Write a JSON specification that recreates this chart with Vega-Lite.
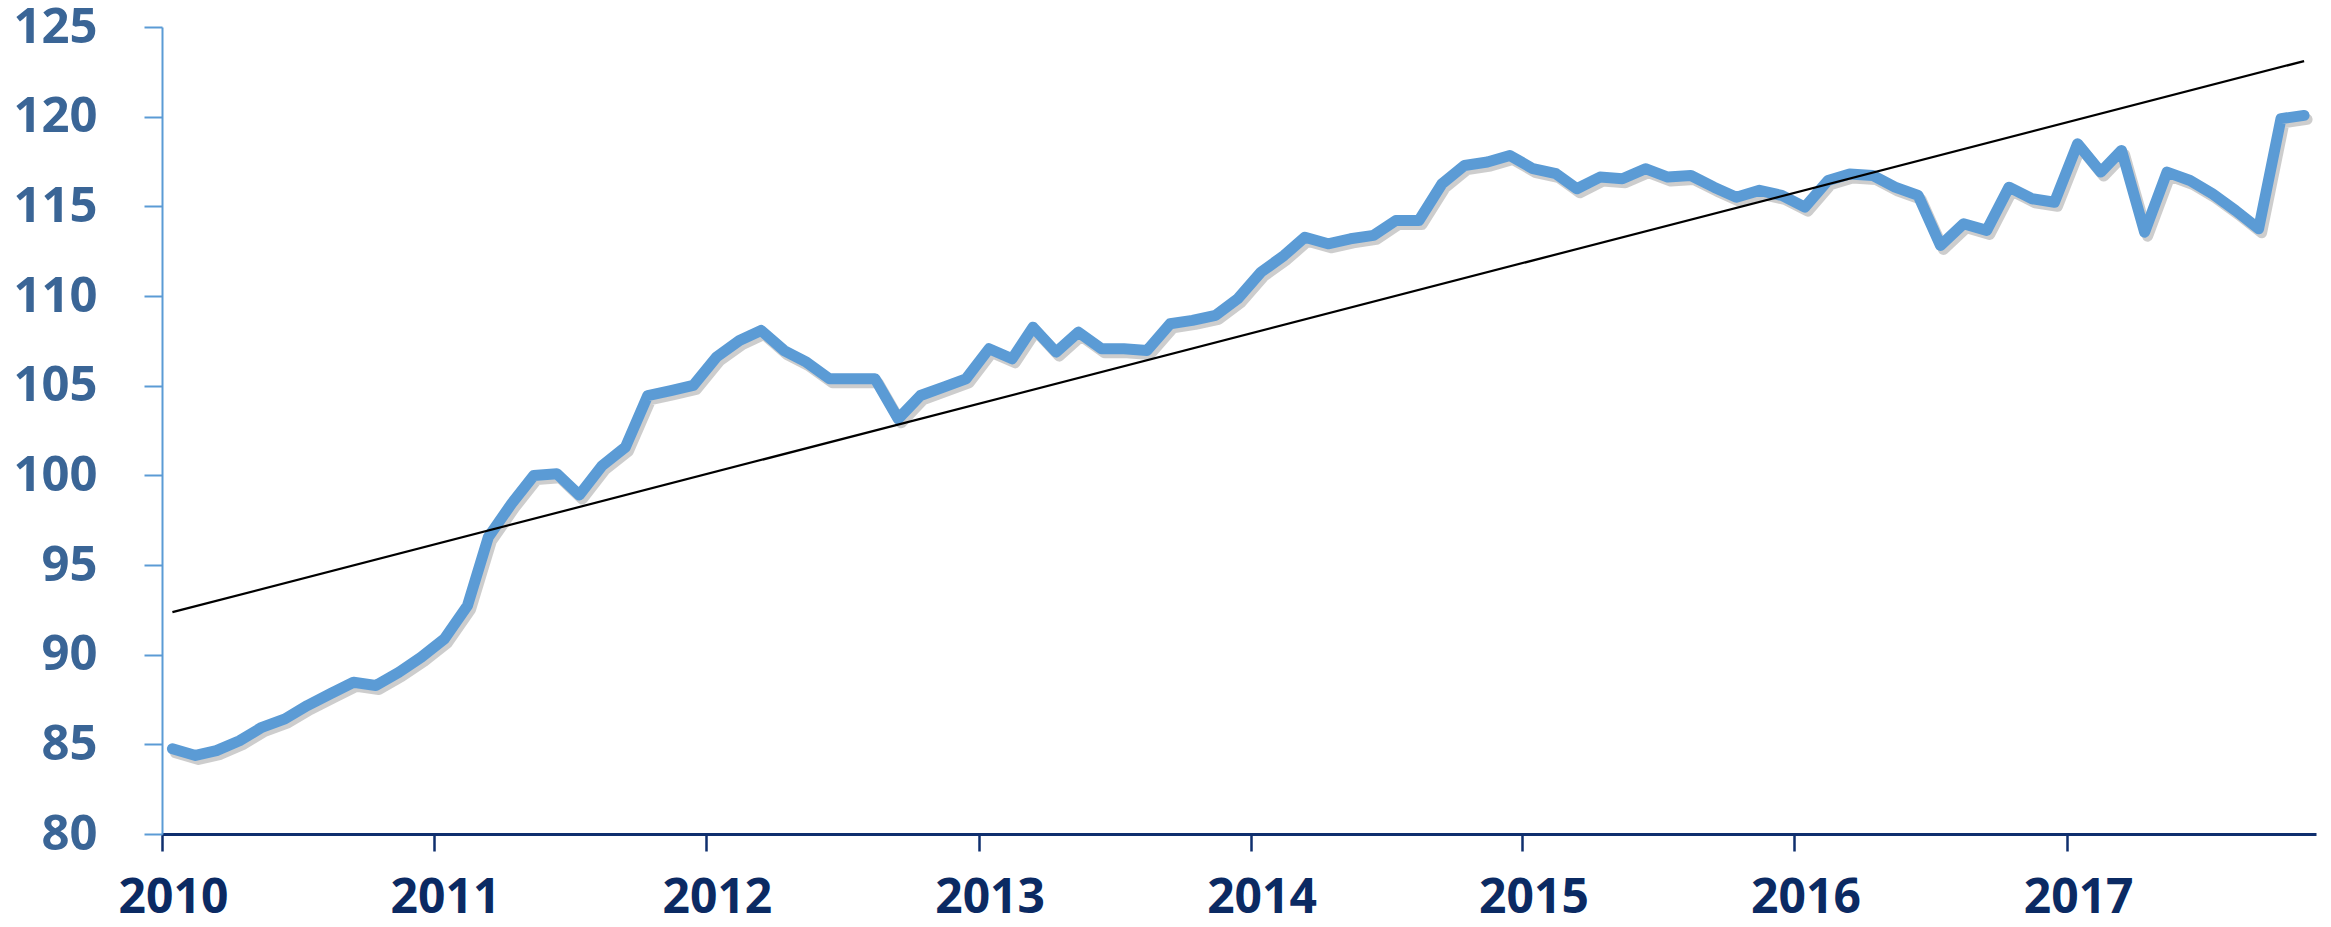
{
  "$schema": "https://vega.github.io/schema/vega-lite/v6.json",
  "autosize": {"type": "none"},
  "padding": {"left": 162, "top": 27, "right": 15, "bottom": 93},
  "width": 2154,
  "height": 807,
  "background": "white",
  "config": {"view": {"stroke": null}},
  "datasets": {
    "series": [
      {"date": "2010-01-15", "value": 84.75}, {"date": "2010-02-15", "value": 84.38}, {"date": "2010-03-15", "value": 84.65}, {"date": "2010-04-15", "value": 85.2}, {"date": "2010-05-15", "value": 85.95}, {"date": "2010-06-15", "value": 86.42}, {"date": "2010-07-15", "value": 87.16}, {"date": "2010-08-15", "value": 87.82}, {"date": "2010-09-15", "value": 88.46}, {"date": "2010-10-15", "value": 88.28}, {"date": "2010-11-15", "value": 89.02}, {"date": "2010-12-15", "value": 89.86},
      {"date": "2011-01-15", "value": 90.88}, {"date": "2011-02-15", "value": 92.74}, {"date": "2011-03-15", "value": 96.55}, {"date": "2011-04-15", "value": 98.41}, {"date": "2011-05-15", "value": 99.99}, {"date": "2011-06-15", "value": 100.09}, {"date": "2011-07-15", "value": 98.9}, {"date": "2011-08-15", "value": 100.55}, {"date": "2011-09-15", "value": 101.57}, {"date": "2011-10-15", "value": 104.45}, {"date": "2011-11-15", "value": 104.73}, {"date": "2011-12-15", "value": 105.01},
      {"date": "2012-01-15", "value": 106.59}, {"date": "2012-02-15", "value": 107.52}, {"date": "2012-03-15", "value": 108.08}, {"date": "2012-04-15", "value": 106.96}, {"date": "2012-05-15", "value": 106.31}, {"date": "2012-06-15", "value": 105.38}, {"date": "2012-07-15", "value": 105.38}, {"date": "2012-08-15", "value": 105.38}, {"date": "2012-09-15", "value": 103.15}, {"date": "2012-10-15", "value": 104.45}, {"date": "2012-11-15", "value": 104.92}, {"date": "2012-12-15", "value": 105.38},
      {"date": "2013-01-15", "value": 107.06}, {"date": "2013-02-15", "value": 106.5}, {"date": "2013-03-15", "value": 108.26}, {"date": "2013-04-15", "value": 106.87}, {"date": "2013-05-15", "value": 107.98}, {"date": "2013-06-15", "value": 107.06}, {"date": "2013-07-15", "value": 107.06}, {"date": "2013-08-15", "value": 106.96}, {"date": "2013-09-15", "value": 108.45}, {"date": "2013-10-15", "value": 108.64}, {"date": "2013-11-15", "value": 108.92}, {"date": "2013-12-15", "value": 109.85},
      {"date": "2014-01-15", "value": 111.33}, {"date": "2014-02-15", "value": 112.26}, {"date": "2014-03-15", "value": 113.28}, {"date": "2014-04-15", "value": 112.91}, {"date": "2014-05-15", "value": 113.19}, {"date": "2014-06-15", "value": 113.38}, {"date": "2014-07-15", "value": 114.21}, {"date": "2014-08-15", "value": 114.21}, {"date": "2014-09-15", "value": 116.26}, {"date": "2014-10-15", "value": 117.28}, {"date": "2014-11-15", "value": 117.47}, {"date": "2014-12-15", "value": 117.84},
      {"date": "2015-01-15", "value": 117.1}, {"date": "2015-02-15", "value": 116.82}, {"date": "2015-03-15", "value": 115.98}, {"date": "2015-04-15", "value": 116.63}, {"date": "2015-05-15", "value": 116.54}, {"date": "2015-06-15", "value": 117.1}, {"date": "2015-07-15", "value": 116.63}, {"date": "2015-08-15", "value": 116.72}, {"date": "2015-09-15", "value": 116.07}, {"date": "2015-10-15", "value": 115.51}, {"date": "2015-11-15", "value": 115.89}, {"date": "2015-12-15", "value": 115.61},
      {"date": "2016-01-15", "value": 114.96}, {"date": "2016-02-15", "value": 116.44}, {"date": "2016-03-15", "value": 116.8}, {"date": "2016-04-15", "value": 116.72}, {"date": "2016-05-15", "value": 116.07}, {"date": "2016-06-15", "value": 115.61}, {"date": "2016-07-15", "value": 112.82}, {"date": "2016-08-15", "value": 114.03}, {"date": "2016-09-15", "value": 113.66}, {"date": "2016-10-15", "value": 116.07}, {"date": "2016-11-15", "value": 115.42}, {"date": "2016-12-15", "value": 115.23},
      {"date": "2017-01-15", "value": 118.49}, {"date": "2017-02-15", "value": 116.91}, {"date": "2017-03-15", "value": 118.12}, {"date": "2017-04-15", "value": 113.56}, {"date": "2017-05-15", "value": 116.91}, {"date": "2017-06-15", "value": 116.44}, {"date": "2017-07-15", "value": 115.7}, {"date": "2017-08-15", "value": 114.77}, {"date": "2017-09-15", "value": 113.75}, {"date": "2017-10-15", "value": 119.89}, {"date": "2017-11-15", "value": 120.07}
    ],
    "trend": [
      {"date": "2010-01-15", "value": 92.37},
      {"date": "2017-11-15", "value": 123.1}
    ]
  },
  "encoding": {
    "x": {
      "field": "date",
      "type": "temporal",
      "scale": {"type": "utc", "domain": [{"year": 2010, "month": 1, "date": 1, "utc": true}, {"year": 2017, "month": 12, "date": 1, "utc": true}]},
      "axis": {
        "title": null,
        "format": "%Y",
        "formatType": "utc",
        "values": [
          {"year": 2010, "month": 1, "date": 1, "utc": true},
          {"year": 2011, "month": 1, "date": 1, "utc": true},
          {"year": 2012, "month": 1, "date": 1, "utc": true},
          {"year": 2013, "month": 1, "date": 1, "utc": true},
          {"year": 2014, "month": 1, "date": 1, "utc": true},
          {"year": 2015, "month": 1, "date": 1, "utc": true},
          {"year": 2016, "month": 1, "date": 1, "utc": true},
          {"year": 2017, "month": 1, "date": 1, "utc": true}
        ],
        "grid": false,
        "domainColor": "#0f2f6e",
        "domainWidth": 3,
        "tickColor": "#0f2f6e",
        "tickWidth": 2.5,
        "tickSize": 17,
        "labelColor": "#0b2a63",
        "labelFont": "Open Sans",
        "labelFontSize": 48,
        "labelFontWeight": "bold",
        "labelPadding": 23,
        "labelOffset": 11,
        "labelFlush": false,
        "labelOverlap": false
      }
    },
    "y": {
      "field": "value",
      "type": "quantitative",
      "scale": {"domain": [80, 125], "nice": false, "zero": false},
      "axis": {
        "title": null,
        "values": [80, 85, 90, 95, 100, 105, 110, 115, 120, 125],
        "grid": false,
        "domainColor": "#5b9bd5",
        "domainWidth": 2,
        "tickColor": "#5b9bd5",
        "tickWidth": 2,
        "tickSize": 18,
        "labelColor": "#3a6596",
        "labelFont": "Open Sans",
        "labelFontSize": 49,
        "labelFontWeight": "bold",
        "labelPadding": 47,
        "labelFlush": false,
        "labelOverlap": false
      }
    }
  },
  "layer": [
    {
      "data": {"name": "series"},
      "mark": {"type": "line", "color": "#6f6f6f", "strokeWidth": 11, "opacity": 0.35, "xOffset": 3, "yOffset": 4, "strokeJoin": "round", "strokeCap": "round"}
    },
    {
      "data": {"name": "series"},
      "mark": {"type": "line", "color": "#5b9bd5", "strokeWidth": 11, "strokeJoin": "round", "strokeCap": "round"}
    },
    {
      "data": {"name": "trend"},
      "mark": {"type": "line", "color": "#000000", "strokeWidth": 2.2}
    }
  ]
}
